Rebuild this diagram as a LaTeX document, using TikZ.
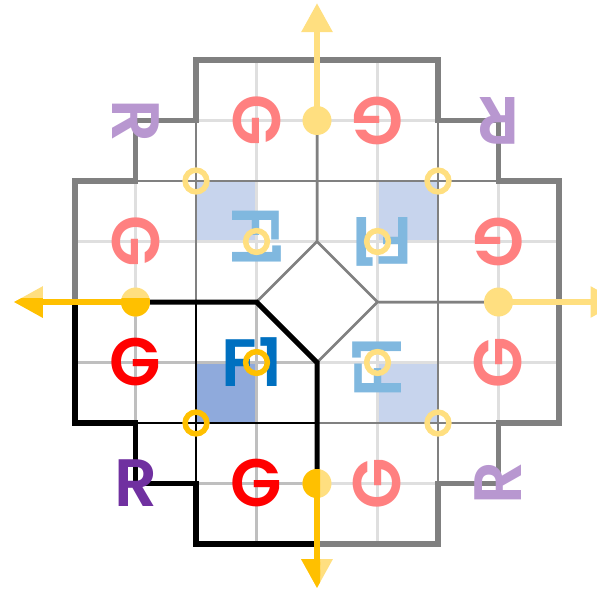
\documentclass[tikz,border=0pt]{standalone}
\usepackage{fontspec}
\newfontfamily\lf{Poppins}[BoldFont={Poppins SemiBold}]
\usetikzlibrary{arrows.meta}
\definecolor{cG}{HTML}{FF0000}
\definecolor{cR}{HTML}{7030A0}
\definecolor{cF}{HTML}{0070C0}
\definecolor{cCell}{HTML}{8FAADC}
\definecolor{cDot}{HTML}{FFC000}
\definecolor{cLight}{HTML}{BFBFBF}
\definecolor{cDark}{HTML}{000000}
\colorlet{pDot}{cDot!50}
\tikzset{
  letter/.style={font=\lf\bfseries\fontsize{67}{67}\selectfont, inner sep=0pt},
  thinline/.style={line width=2.5pt},
  outline/.style={line width=5.5pt, line join=miter},
  ring/.style={line width=5.5pt},
  arr/.style={line width=6pt, -{Triangle[length=29pt,width=30pt]}},
}
\newcommand\drawquad[3]{%
  \colorlet{qG}{cG!#2}\colorlet{qR}{cR!#2}\colorlet{qF}{cF!#2}%
  \colorlet{qCell}{cCell!#2}\colorlet{qDot}{cDot!#2}%
  \colorlet{qLight}{cLight!#2}\colorlet{qDark}{cDark!#2}%
  \begin{scope}[rotate=#1]
    \fill[qCell] (-2,-2) rectangle (-1,-1);
    \draw[qLight, thinline] (-3,0) -- (-3,-2) (-1,0) -- (-1,-4)
      (-4,-1) -- (0,-1) (-2,-3) -- (0,-3);
    \draw[qDark, thinline] (-2,0) -- (-2,-4) (-4,-2) -- (0,-2);
    \draw[qDark, line width=#3, line join=miter] (-4,0) -- (-1,0) -- (0,-1) -- (0,-4);
    \draw[qDark, outline] (0,-4) -- (-2,-4) -- (-2,-3) -- (-3,-3) -- (-3,-2) -- (-4,-2) -- (-4,0);
    \node[letter, text=qG, rotate=#1] (g1) at (-3,-1) {G};
    \node[letter, text=qG, rotate=#1] (g2) at (-1,-3) {G};
    \node[letter, text=qR, rotate=#1] (r) at (-3,-3) {R};
    \node[letter, text=qF, rotate=#1] (f) at (-1.07,-1) {F\kern2pt 1};
    \draw[qDot, ring] (-1,-1) circle (0.18);
    \draw[qDot, ring] (-2,-2) circle (0.18);
  \end{scope}}
\begin{document}
\begin{tikzpicture}[x=60.5pt,y=60.5pt]
\useasboundingbox (-317/60.5,-290/60.5) rectangle (280/60.5,302/60.5);
\drawquad{-90}{50}{2.5pt}
\drawquad{180}{50}{2.5pt}
\drawquad{90}{50}{2.5pt}
\drawquad{0}{100}{5pt}
% pale dots and arrows
\coordinate (tT) at (0,4.94);
\coordinate (tR) at (5,0);
\coordinate (tL) at (-5.01,0);
\coordinate (tB) at (0,-4.73);
\node[circle, fill=pDot, minimum size=29pt, inner sep=0] (dT) at (0,3) {};
\node[circle, fill=pDot, minimum size=29pt, inner sep=0] (dR) at (3,0) {};
\node[circle, fill=pDot, minimum size=29pt, inner sep=0] (dL) at (-3,0) {};
\node[circle, fill=pDot, minimum size=29pt, inner sep=0] (dB) at (0,-3) {};
\draw[pDot, arr] (dT.center) -- (tT);
\draw[pDot, arr] (dR.center) -- (tR);
\draw[pDot, arr] (dL.center) -- (tL);
\draw[pDot, arr] (dB.center) -- (tB);
\begin{scope}
  \clip (-6,-6) rectangle (0.05,0.06);
  \node[circle, fill=cDot, minimum size=29pt, inner sep=0] (oL) at (-3,0) {};
  \node[circle, fill=cDot, minimum size=29pt, inner sep=0] (oB) at (0,-3) {};
  \draw[cDot, arr] (oL.center) -- (tL);
  \draw[cDot, arr] (oB.center) -- (tB);
\end{scope}
\end{tikzpicture}
\end{document}
